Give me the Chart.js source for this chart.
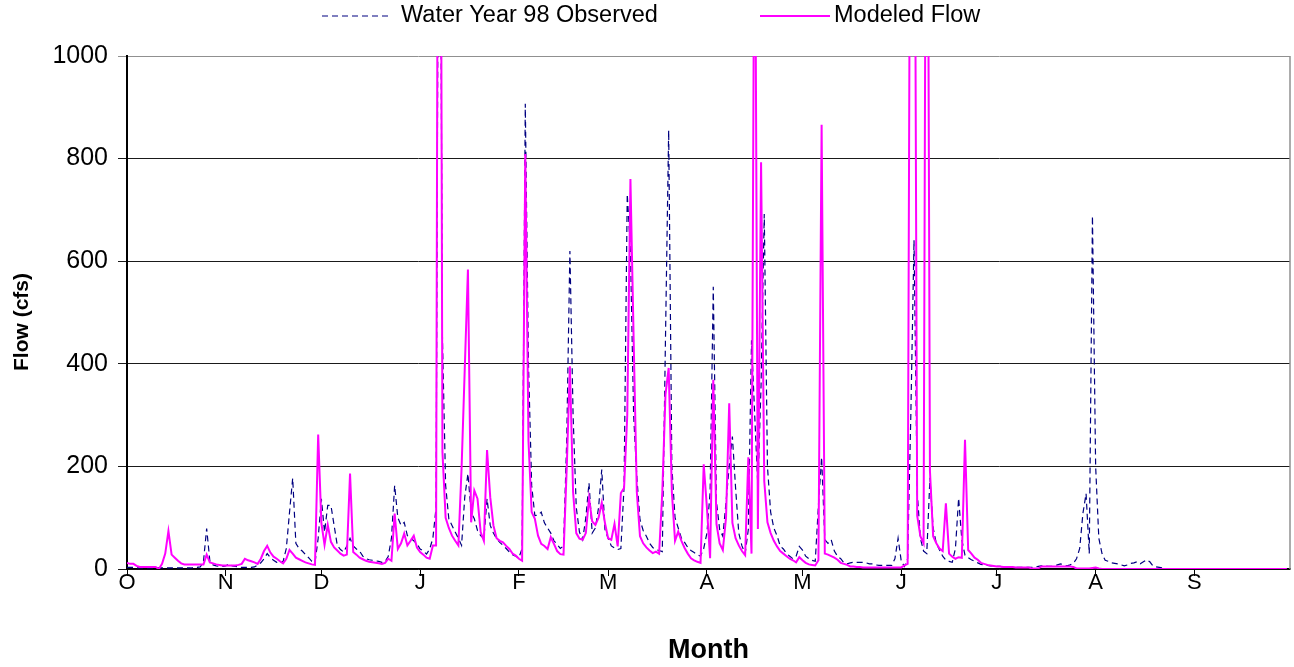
<!DOCTYPE html>
<html>
<head>
<meta charset="utf-8">
<title>Water Year 98 Observed vs Modeled Flow</title>
<script src="https://cdn.jsdelivr.net/npm/chart.js@4.4.1/dist/chart.umd.min.js"></script>
<style>
  html, body { margin: 0; padding: 0; background: #fff; }
  #wrap { width: 1294px; height: 667px; }
</style>
</head>
<body>
<div id="wrap"><canvas id="flowChart" width="1294" height="667"></canvas></div>
<script>
// month ticks, day 0 = Oct 1
const monthLabels = ["O", "N", "D", "J", "F", "M", "A", "M", "J", "J", "A", "S"];
const monthStartDays = [0, 31, 61, 92, 123, 151, 182, 212, 243, 273, 304, 335];
const yTicks = [0, 200, 400, 600, 800, 1000];

// daily flow, cfs (values above 1000 are clipped)
const observed = [
  // Oct
  3,3,3,2,2,2,2,2,2,2, 2,2,2,2,2,2,2,2,2,2, 2,3,3,4,15,79,16,8,6,5, 5,
  // Nov
  6,10,6,5,4,3,3,3,3,4, 8,12,20,30,22,17,13,11,15,40, 110,177,50,40,35,28,22,15,12,60,
  // Dec
  137,72,124,124,85,46,38,33,45,60, 45,39,35,25,20,18,17,16,15,13, 14,25,60,163,100,85,91,65,60,55, 49,
  // Jan
  39,35,29,39,60,120,1800,450,163,98, 85,72,60,46,140,186,110,98,75,65, 59,137,85,70,59,52,46,40,33,28, 25,
  // Feb
  22,40,907,400,163,104,105,111,90,80, 70,55,48,40,45,250,620,300,120,72, 57,100,168,70,80,120,194,77,
  // Mar
  60,45,41,38,40,161,731,620,300,180, 96,75,64,50,42,38,36,34,450,855, 200,100,80,60,52,42,36,32,28,25, 40,
  // Apr
  70,150,550,131,77,64,130,200,258,158, 70,45,30,77,446,300,160,360,692,200, 111,80,65,45,39,30,25,20,25,44,
  // May
  37,25,20,17,15,124,218,57,50,57, 35,25,20,12,10,12,13,13,13,13, 12,10,10,8,7,7,7,7,7,20, 60,
  // Jun
  15,5,20,300,641,150,60,35,30,178, 80,50,37,25,17,15,13,40,138,57, 27,22,18,15,12,9,8,7,6,6,
  // Jul
  5,5,4,4,3,3,3,3,3,3, 3,3,4,5,6,6,5,5,6,8, 10,8,6,8,11,20,40,108,147,30, 688,
  // Aug
  200,60,30,17,15,12,11,10,8,6, 8,11,12,14,10,14,18,14,6,4, 3,2,1,1,1,1,1,1,1,1, 1,
  // Sep
  1,1,1,1,1,1,1,1,1,1, 1,1,1,1,1,1,1,1,1,1, 1,1,1,1,1,1,1,1,1,1
];

const modeled = [
  // Oct
  12,10,10,6,4,4,4,4,4,4, 0,10,30,74,28,22,16,11,9,9, 9,9,9,9,9,28,13,11,9,8, 7,
  // Nov
  7,7,7,7,8,10,20,17,15,13, 10,20,35,45,32,24,20,15,11,20, 37,30,22,19,16,13,11,9,8,262,
  // Dec
  90,47,86,53,42,36,30,26,28,186, 33,28,22,19,16,14,13,12,11,10, 12,20,16,108,39,50,69,46,55,65, 42,
  // Jan
  33,28,22,20,46,46,2500,228,100,80, 65,55,46,196,390,584,91,153,137,72, 55,232,140,85,60,55,52,45,39,30, 26,
  // Feb
  20,16,809,250,111,98,65,49,45,39, 62,49,35,29,28,196,395,150,70,59, 57,70,138,93,86,100,129,90,
  // Mar
  60,57,88,44,148,158,300,760,450,150, 64,50,42,36,31,34,30,150,340,392, 150,55,73,55,41,30,21,17,14,12, 204,
  // Apr
  120,21,369,88,50,37,100,323,90,60, 46,35,27,218,30,1500,78,793,171,91, 70,55,44,35,30,25,20,17,13,23,
  // May
  17,12,9,8,7,17,866,30,28,25, 22,18,12,10,8,5,5,4,4,3, 3,3,3,3,3,3,3,3,3,3, 3,
  // Jun
  3,7,10,1800,1800,104,64,50,2000,191, 64,50,40,35,128,30,24,20,23,22, 252,37,30,22,18,12,10,8,7,6,
  // Jul
  5,5,4,4,4,4,3,3,3,3, 3,1,1,1,5,5,5,5,5,5, 5,5,5,5,4,1,1,1,1,1, 2,
  // Aug
  3,1,0,0,0,0,0,0,0,0, 0,0,0,0,0,0,0,0,0,0, 0,0,0,0,0,0,0,0,0,0, 0,
  // Sep
  0,0,0,0,0,0,0,0,0,0, 0,0,0,0,0,0,0,0,0,0, 0,0,0,0,0,0,0,0,0,0
];

const family = "'Liberation Sans', Arial, sans-serif";
const toPoints = arr => arr.map((v, i) => ({ x: i, y: v }));

// gray frame on the right side of the plot area
const frame = {
  id: "frame",
  beforeDatasetsDraw(chart) {
    const { ctx, chartArea: a } = chart;
    ctx.save();
    ctx.strokeStyle = "#909090";
    ctx.lineWidth = 1.5;
    ctx.beginPath();
    ctx.moveTo(a.right, a.top);
    ctx.lineTo(a.right, a.bottom);
    ctx.stroke();
    ctx.restore();
  }
};

// legend row at the top + the y axis title (sits a bit below centre)
const extras = {
  id: "extras",
  afterDraw(chart) {
    const c = chart.ctx;
    const y = 16;
    const items = [
      { ds: 0, x0: 322, x1: 392, tx: 401 },
      { ds: 1, x0: 760, x1: 830, tx: 834 }
    ];
    c.save();
    c.font = "23.5px " + family;
    c.textBaseline = "middle";
    c.fillStyle = "#000";
    items.forEach(it => {
      const ds = chart.data.datasets[it.ds];
      c.strokeStyle = ds.borderColor;
      c.lineWidth = ds.borderWidth;
      c.setLineDash(ds.borderDash || []);
      c.beginPath();
      c.moveTo(it.x0, y);
      c.lineTo(it.x1, y);
      c.stroke();
      c.setLineDash([]);
      c.fillText(ds.label, it.tx, y);
    });

    c.translate(22, 322);
    c.rotate(-Math.PI / 2);
    c.font = "bold 21px " + family;
    c.textAlign = "center";
    c.fillText("Flow (cfs)", 0, 0);
    c.restore();
  }
};

const ctx = document.getElementById("flowChart");
const flowChart = new Chart(ctx, {
  type: "line",
  data: {
    datasets: [{
      label: "Water Year 98 Observed",
      data: toPoints(observed),
      borderColor: "#000080",
      borderWidth: 1.2,
      borderDash: [6, 4],
      pointRadius: 0,
      tension: 0,
      order: 1
    }, {
      label: "Modeled Flow",
      data: toPoints(modeled),
      borderColor: "#ff00ff",
      borderWidth: 2,
      pointRadius: 0,
      tension: 0,
      order: 0
    }]
  },
  options: {
    responsive: false,
    animation: false,
    devicePixelRatio: 1,
    layout: { padding: { top: 56, right: 4, left: 0, bottom: 0 } },
    plugins: {
      legend: { display: false },
      tooltip: { enabled: false }
    },
    scales: {
      x: {
        type: "linear",
        min: 0,
        max: 365,
        afterBuildTicks: s => { s.ticks = monthStartDays.map(v => ({ value: v })); },
        afterFit: s => { s.height = 98; },
        ticks: {
          autoSkip: false,
          maxRotation: 0,
          padding: -6,
          color: "#000",
          font: { family, size: 22 },
          callback: v => monthLabels[monthStartDays.indexOf(v)]
        },
        grid: { drawOnChartArea: false, drawTicks: true, tickLength: 7, color: "#000" },
        border: { color: "#000", width: 1.5 },
        title: {
          display: true,
          text: "Month",
          color: "#000",
          font: { family, size: 27, weight: "bold" },
          padding: { top: 0, bottom: 0 }
        }
      },
      y: {
        min: 0,
        max: 1000,
        afterBuildTicks: s => { s.ticks = yTicks.map(v => ({ value: v })); },
        afterFit: s => { s.width = 127; },
        ticks: {
          padding: 10,
          color: "#000",
          font: { family, size: 25 },
          callback: v => String(v)
        },
        grid: {
          color: c => (c.tick && c.tick.value === 1000 ? "#909090" : "#1a1a1a"),
          lineWidth: 1,
          tickLength: 9
        },
        border: { color: "#000", width: 2 },
        title: { display: false }
      }
    }
  },
  plugins: [frame, extras]
});
</script>
</body>
</html>
